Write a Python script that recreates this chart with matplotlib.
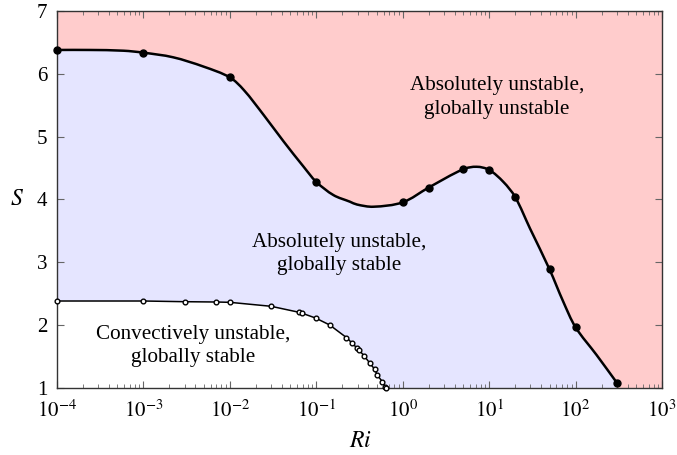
import numpy as np
import matplotlib
matplotlib.use("Agg")
from matplotlib import pyplot as plt
from matplotlib.path import Path
from matplotlib.patches import PathPatch

plt.rcParams['font.family'] = ['Liberation Serif', 'DejaVu Serif']
plt.rcParams['mathtext.fontset'] = 'stix'

# fronteira absoluta / global: pontos marcados
ri_global = [1e-4, 1e-3, 1e-2, 1e-1, 1, 2, 5, 10, 20, 50, 100, 300]
s_global = [6.376, 6.333, 5.94, 4.28, 3.955, 4.19, 4.48, 4.47, 4.04, 2.89, 1.97, 1.09]

# tracado da mesma curva (inclui pontos sem marcador)
ri_trace = [1e-4, 2.4e-4, 5.9e-4, 1e-3, 2.2e-3, 5.0e-3, 1e-2, 0.0145, 0.0247, 0.042,
            0.0714, 0.1, 0.158, 0.245, 0.296, 0.457, 1, 2, 5, 7.18, 10, 14.6, 20,
            29.7, 50, 72.1, 100, 175, 300]
s_trace = [6.376, 6.376, 6.364, 6.333, 6.26, 6.11, 5.94, 5.74, 5.34, 4.92,
           4.52, 4.28, 4.07, 3.965, 3.92, 3.885, 3.955, 4.19, 4.48, 4.52, 4.47, 4.28, 4.04,
           3.54, 2.89, 2.376, 1.97, 1.53, 1.09]

# fronteira convectiva / absoluta (curva de baixo)
ri_conv = [1e-4, 1e-3, 3e-3, 7e-3, 1e-2, 3e-2, 6.35e-2, 6.9e-2, 9.8e-2, 0.143,
           0.223, 0.261, 0.298, 0.312, 0.359, 0.418, 0.474, 0.508, 0.581, 0.624, 0.641]
s_conv = [2.387, 2.387, 2.376, 2.371, 2.366, 2.303, 2.207, 2.191, 2.117, 2.006,
          1.807, 1.715, 1.635, 1.608, 1.513, 1.397, 1.302, 1.211, 1.105, 1.025, 1.0]

xticks = [1e-4, 1e-3, 1e-2, 1e-1, 1, 10, 100, 1000]
xticklabels = [r'$10^{-4}$', r'$10^{-3}$', r'$10^{-2}$', r'$10^{-1}$',
               r'$10^{0}$', r'$10^{1}$', r'$10^{2}$', r'$10^{3}$']
yticks = [1, 2, 3, 4, 5, 6, 7]

cor_vermelho = '#ffcccc'
cor_azul = '#e5e5ff'


def caminhoSuave(xs, ys, k=0.33, escala=1.3734):
	'''
	- Monta um caminho de Bezier passando pelos pontos (parecido com o "smooth" do tikz).
	- Tangente em cada ponto na direcao (P[i+1] - P[i-1]), tamanho proporcional a corda.
	- Calculado no espaco (log10(x) * escala, y), que e proporcional ao da tela.
	'''
	p = np.column_stack([np.log10(xs) * escala, np.array(ys, dtype=float)])
	n = len(p)
	tang = []
	for i in range(n):
		d = p[min(i + 1, n - 1)] - p[max(i - 1, 0)]
		tang.append(d / np.hypot(*d))
	verts = [(xs[0], ys[0])]
	codes = [Path.MOVETO]
	for i in range(n - 1):
		corda = np.hypot(*(p[i + 1] - p[i]))
		c1 = p[i] + k * corda * tang[i]
		c2 = p[i + 1] - k * corda * tang[i + 1]
		verts += [(10 ** (c1[0] / escala), c1[1]), (10 ** (c2[0] / escala), c2[1]),
				  (xs[i + 1], ys[i + 1])]
		codes += [Path.CURVE4] * 3
	return verts, codes


fig = plt.figure(figsize=(6.77, 4.55), dpi=100)
ax = fig.add_axes([0.0842, 0.1466, 0.8936, 0.8299])
ax.set_xscale('log')
ax.set_xlim(1e-4, 1e3)
ax.set_ylim(1, 7)
ax.set_facecolor(cor_vermelho)

# regiao azul (abaixo da curva de cima)
verts, codes = caminhoSuave(ri_trace, s_trace)
vfill = verts + [(ri_trace[-1], 1), (ri_trace[0], 1), (ri_trace[0], s_trace[0])]
cfill = codes + [Path.LINETO, Path.LINETO, Path.CLOSEPOLY]
ax.add_patch(PathPatch(Path(vfill, cfill), facecolor=cor_azul, edgecolor='none', zorder=0.5))

# regiao branca (abaixo da curva de baixo)
ax.fill_between(ri_conv, s_conv, 1, facecolor='white', edgecolor='none', zorder=0.6)

# curvas
ax.add_patch(PathPatch(Path(verts, codes), facecolor='none', edgecolor='black', lw=1.8, zorder=3))
ax.plot(ri_global, s_global, 'o', color='black', ms=5, zorder=4, clip_on=False)
ax.plot(ri_conv, s_conv, '-o', color='black', lw=1.1, ms=3.4, mfc='white', mew=1.0,
        zorder=4, clip_on=False)

# textos das regioes
ax.text(12.3, 5.62, 'Absolutely unstable,\nglobally unstable', ha='center', va='center',
        fontsize=15.2, linespacing=1.3)
ax.text(0.183, 3.134, 'Absolutely unstable,\nglobally stable', ha='center', va='center',
        fontsize=15.2, linespacing=1.3)
ax.text(3.75e-3, 1.677, 'Convectively unstable,\nglobally stable', ha='center', va='center',
        fontsize=15.2, linespacing=1.3)

ax.set_xticks(xticks)
ax.set_xticklabels(xticklabels)
ax.set_yticks(yticks)
ax.tick_params(axis='both', which='both', direction='in', top=True, right=True,
               labelsize=15, color='#666666')
ax.tick_params(axis='both', which='major', length=5, width=0.8)
ax.tick_params(axis='x', which='minor', length=3, width=0.6)
ax.tick_params(axis='x', which='major', pad=9)
ax.tick_params(axis='y', which='major', pad=7)

ax.set_xlabel('$Ri$', fontsize=17, va='center')
ax.set_ylabel('$S$', fontsize=17, rotation=0, va='center', ha='center')
ax.xaxis.set_label_coords(0.501, -0.142)
ax.yaxis.set_label_coords(-0.066, 0.5)

for spine in ax.spines.values():
	spine.set_linewidth(1.0)
	spine.set_color('#333333')

fig.savefig('out.png', dpi=100)
